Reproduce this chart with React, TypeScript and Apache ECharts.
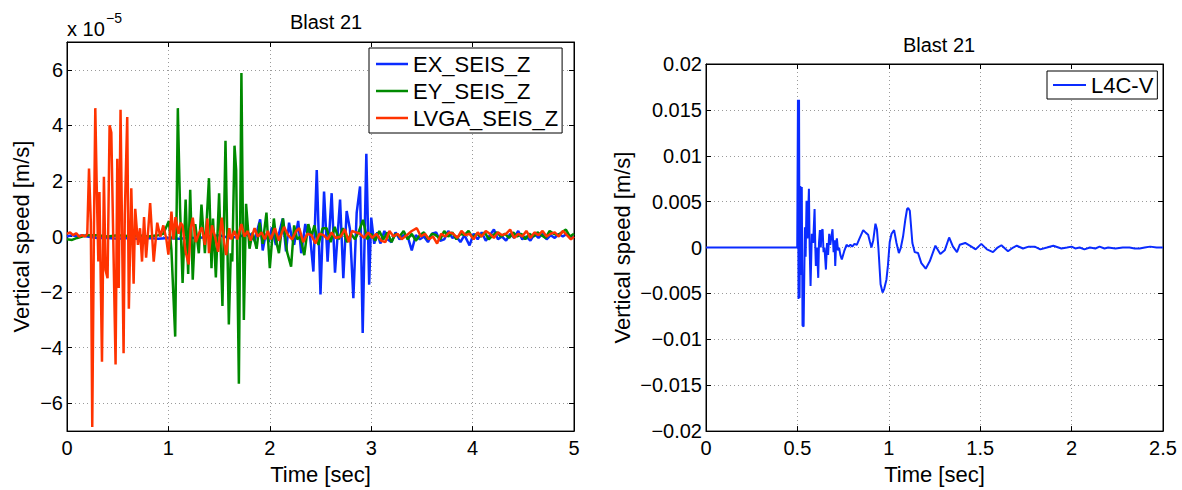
import React, { useEffect, useRef } from "react";
import * as echarts from "echarts";

// ---------- data (left panel values are in units of 1e-5 m/s) ----------
const leftTitle = "Blast 21";
const rightTitle = "Blast 21";
const leftXTicks = [0, 1, 2, 3, 4, 5];
const leftYTicks = [-6, -4, -2, 0, 2, 4, 6];
const rightXTicks = [0, 0.5, 1, 1.5, 2, 2.5];
const rightYTicks = [-0.02, -0.015, -0.01, -0.005, 0, 0.005, 0.01, 0.015, 0.02];
const leftSeriesNames = ["EX_SEIS_Z", "EY_SEIS_Z", "LVGA_SEIS_Z"];
const rightSeriesNames = ["L4C-V"];

const exSeis: [number, number][] = [
  [0, 0], [0.05, 0.05], [0.1, 0], [0.15, 0.05], [0.2, 0], [0.3, -0.05], [0.4, -0.05], [0.5, -0.08],
  [0.6, -0.05], [0.7, -0.08], [0.8, -0.05], [0.9, -0.08], [1.0, -0.05], [1.1, -0.08], [1.2, -0.05],
  [1.3, -0.05], [1.4, 0], [1.5, 0.05], [1.6, -0.05], [1.7, 0], [1.8, 0.1], [1.85, -0.15], [1.905, 0.62],
  [1.93, -0.5], [1.96, 0.1], [1.99, -0.2], [2.02, 0.33], [2.06, -0.3], [2.09, 0.1], [2.128, 0.65],
  [2.16, -0.53], [2.19, 0.5], [2.215, 0], [2.24, -0.3], [2.28, 0.56], [2.31, -0.6], [2.35, 0.45],
  [2.37, 0.1], [2.39, 0.3], [2.43, -1.26], [2.463, 2.39], [2.5, -2.08], [2.535, 1.62], [2.57, -0.9],
  [2.61, 1.56], [2.643, -1.3], [2.693, 1.33], [2.725, -1.5], [2.758, 0.92], [2.79, 0.27], [2.824, -2.22],
  [2.857, 0.86], [2.89, 1.8], [2.916, -3.47], [2.952, 2.98], [2.98, -1.73], [3.0, 0.68], [3.03, -0.26],
  [3.06, 0.15], [3.09, -0.25], [3.13, 0.2], [3.16, -0.1], [3.2, -0.2], [3.24, 0.15], [3.28, -0.1],
  [3.32, 0.05], [3.36, 0], [3.4, -0.5], [3.44, 0.05], [3.48, -0.1], [3.52, 0], [3.56, -0.2], [3.6, 0.1],
  [3.64, 0.15], [3.68, -0.15], [3.72, -0.1], [3.76, 0.2], [3.8, -0.05], [3.84, 0], [3.88, -0.2],
  [3.92, 0.05], [3.97, -0.32], [4.01, 0.1], [4.05, -0.1], [4.09, 0.15], [4.13, -0.15], [4.17, 0.05],
  [4.21, 0.25], [4.25, -0.1], [4.29, 0], [4.33, -0.15], [4.37, 0.1], [4.41, -0.05], [4.45, 0.2],
  [4.49, -0.1], [4.53, 0], [4.57, -0.15], [4.61, 0.1], [4.65, -0.05], [4.69, 0.1], [4.73, -0.1],
  [4.77, 0.05], [4.81, -0.05], [4.85, 0.1], [4.89, 0], [4.93, 0.1], [4.97, -0.05], [5.0, 0],
];

const eySeis: [number, number][] = [
  [0, -0.1], [0.05, -0.12], [0.1, -0.05], [0.15, 0], [0.2, 0.05], [0.3, 0.05], [0.4, 0], [0.5, 0.05],
  [0.6, 0.02], [0.7, 0.05], [0.8, 0], [0.9, 0.05], [0.95, 0.1], [1.005, 0.56], [1.03, -0.5],
  [1.067, -3.6], [1.093, 4.62], [1.115, 1.0], [1.14, -1.67], [1.17, 1.33], [1.195, -1.35], [1.215, 1.68],
  [1.24, -1.55], [1.265, 0.45], [1.3, -0.6], [1.326, 1.15], [1.36, -0.6], [1.4, 2.1], [1.425, -1.14],
  [1.44, 0.65], [1.468, -1.47], [1.5, 1.56], [1.533, -2.5], [1.563, 3.45], [1.596, -3.16], [1.615, -0.6],
  [1.63, -0.9], [1.652, 3.27], [1.668, 2.4], [1.695, -5.3], [1.72, 5.88], [1.744, -3.0], [1.766, 1.18],
  [1.8, -0.44], [1.83, 0.15], [1.87, -0.44], [1.9, 0.5], [1.93, -0.26], [1.967, 0.86], [2.0, -1.14],
  [2.04, 0.65], [2.065, -0.2], [2.09, -0.6], [2.13, 0.65], [2.17, -0.55], [2.21, -1.08], [2.24, 0.4],
  [2.27, -0.1], [2.3, 0], [2.34, -0.67], [2.38, 0.45], [2.41, 0], [2.44, 0.4], [2.48, -0.3], [2.52, 0.3],
  [2.56, 0.3], [2.6, -0.2], [2.64, 0.35], [2.68, -0.1], [2.72, 0.3], [2.76, -0.2], [2.8, 0.1],
  [2.84, -0.1], [2.88, 0.2], [2.92, 0.6], [2.96, -0.1], [3.0, 0.1], [3.04, -0.15], [3.08, 0.2],
  [3.12, -0.1], [3.16, 0.15], [3.2, -0.2], [3.24, 0.1], [3.28, 0], [3.32, 0.2], [3.36, -0.1], [3.4, 0.1],
  [3.44, -0.15], [3.48, 0.05], [3.52, 0.15], [3.56, -0.1], [3.6, 0.1], [3.64, 0.05], [3.68, -0.1],
  [3.72, 0.2], [3.76, 0], [3.8, 0.15], [3.84, -0.1], [3.88, 0.1], [3.92, 0.05], [3.96, 0.2], [4.0, -0.05],
  [4.04, 0.1], [4.08, 0], [4.12, 0.15], [4.16, -0.1], [4.2, 0.05], [4.24, 0.15], [4.28, 0], [4.32, 0.1],
  [4.36, -0.05], [4.4, 0.15], [4.44, 0], [4.48, 0.1], [4.52, -0.1], [4.56, 0.1], [4.6, 0], [4.64, 0.15],
  [4.68, 0.05], [4.72, -0.05], [4.76, 0.2], [4.8, 0.1], [4.84, 0.05], [4.88, 0.15], [4.92, 0.25],
  [4.96, 0], [5.0, 0.1],
];

const lvgaSeis: [number, number][] = [
  [0, 0.1], [0.03, 0.15], [0.06, 0.05], [0.09, 0.12], [0.12, 0], [0.15, 0.05], [0.18, 0], [0.2, 0.1],
  [0.217, 2.45], [0.235, 0.5], [0.249, -6.85], [0.265, 0], [0.279, 4.62], [0.292, 2.0], [0.309, -0.9],
  [0.32, 1.6], [0.345, -4.5], [0.364, 2.15], [0.38, -1.2], [0.4, -1.5], [0.42, 4.0], [0.437, 3.74],
  [0.479, -4.6], [0.496, 2.8], [0.51, -1.85], [0.528, 4.56], [0.558, -4.2], [0.57, 0.8], [0.594, 4.3],
  [0.61, -2.6], [0.634, 1.74], [0.657, -1.7], [0.673, 1.0], [0.7, -0.3], [0.72, 0.3], [0.74, -0.9],
  [0.76, 0.7], [0.78, -0.76], [0.8, 0.2], [0.82, 1.2], [0.855, -0.9], [0.89, 0.5], [0.92, 0],
  [0.95, 0.4], [0.98, -0.1], [1.0, -0.65], [1.03, 0.9], [1.05, -0.1], [1.07, 0.7], [1.1, 0.1],
  [1.12, 0.5], [1.14, 0.4], [1.17, -0.55], [1.2, -1.0], [1.22, 0.3], [1.24, 0.68], [1.27, -0.2],
  [1.3, 0.1], [1.33, 0.33], [1.36, -0.3], [1.385, 0.65], [1.4, -0.6], [1.43, 0.4], [1.46, 0],
  [1.49, -0.55], [1.526, 0.68], [1.55, -0.2], [1.57, -0.67], [1.6, 0.3], [1.62, -0.1], [1.65, 0.2],
  [1.68, -0.1], [1.72, 0.45], [1.75, 0], [1.78, 0.2], [1.81, -0.15], [1.85, 0.3], [1.88, 0],
  [1.92, 0.15], [1.95, -0.1], [1.98, 0.2], [2.01, -0.1], [2.05, 0.3], [2.09, -0.15], [2.14, 0.35],
  [2.18, 0.05], [2.22, -0.1], [2.26, 0.2], [2.29, 0.3], [2.33, -0.2], [2.37, 0.1], [2.41, 0.05],
  [2.45, -0.25], [2.49, 0.1], [2.53, 0.05], [2.57, -0.1], [2.61, 0.15], [2.65, -0.05], [2.7, 0],
  [2.74, 0.27], [2.78, -0.2], [2.81, 0.2], [2.85, 0.15], [2.89, 0.1], [2.93, -0.05], [2.97, 0.15],
  [3.01, -0.05], [3.05, 0.1], [3.1, -0.15], [3.14, -0.2], [3.18, 0.2], [3.22, 0], [3.26, 0.1],
  [3.3, -0.1], [3.35, 0.05], [3.4, 0.2], [3.45, 0.3], [3.49, 0], [3.53, 0.1], [3.57, -0.1], [3.61, 0],
  [3.65, -0.25], [3.69, 0.1], [3.73, 0], [3.77, 0.15], [3.81, 0.1], [3.85, -0.05], [3.89, 0.2],
  [3.93, 0.05], [3.97, 0.1], [4.01, -0.1], [4.05, 0.15], [4.09, 0], [4.13, 0.2], [4.17, 0.1],
  [4.21, -0.05], [4.25, 0.15], [4.29, 0.05], [4.33, 0.1], [4.37, 0.25], [4.41, -0.05], [4.45, 0.1],
  [4.49, 0], [4.53, 0.2], [4.57, -0.05], [4.61, 0.15], [4.65, 0.05], [4.69, 0.2], [4.73, 0], [4.77, 0.1],
  [4.81, 0.15], [4.85, 0], [4.89, 0.2], [4.93, 0.05], [4.97, -0.1], [5.0, 0],
];

const l4cV: [number, number][] = [
  [0, 0], [0.25, 0], [0.499, 0], [0.503, 0.0161], [0.506, -0.0056], [0.509, 0.0161], [0.512, -0.0055],
  [0.516, 0.0067], [0.52, -0.003], [0.524, 0.0066], [0.528, -0.0085], [0.534, -0.0086], [0.541, 0.0022],
  [0.545, -0.001], [0.55, 0.0051], [0.555, 0.001], [0.563, 0.0064], [0.567, 0], [0.572, -0.0042],
  [0.579, 0.0015], [0.586, 0.0005], [0.594, 0.0042], [0.598, 0], [0.601, -0.002], [0.607, 0],
  [0.614, -0.0033], [0.618, 0.0005], [0.623, 0.0019], [0.628, 0], [0.632, 0.0018], [0.638, 0.002],
  [0.643, -0.0005], [0.648, 0], [0.656, -0.0024], [0.662, 0.0005], [0.668, -0.0008], [0.674, 0.0015],
  [0.68, 0.0003], [0.686, 0.0012], [0.692, 0.002], [0.698, -0.0005], [0.703, 0.0008], [0.707, -0.002],
  [0.712, 0.0005], [0.716, 0.001], [0.722, -0.0003], [0.728, 0], [0.735, -0.0008], [0.743, -0.0013],
  [0.756, -0.0004], [0.769, 0.0003], [0.78, 0.0001], [0.79, 0.0003], [0.8, 0.0001], [0.812, 0.0004],
  [0.825, 0.0003], [0.84, 0.001], [0.86, 0.0019], [0.875, 0.0016], [0.887, 0.0014], [0.897, 0.0006],
  [0.905, 0], [0.915, 0.0008], [0.927, 0.0026], [0.935, 0.002], [0.943, 0], [0.955, -0.004],
  [0.966, -0.0049], [0.975, -0.0045], [0.987, -0.0035], [0.995, -0.002], [1.005, 0.0006],
  [1.015, 0.0015], [1.029, 0.0019], [1.042, 0.0005], [1.055, -0.0006], [1.066, 0], [1.078, 0.0012],
  [1.09, 0.003], [1.1, 0.0042], [1.106, 0.0043], [1.115, 0.004], [1.129, 0.0005], [1.142, -0.0005],
  [1.16, -0.0006], [1.178, -0.0017], [1.202, -0.0023], [1.224, -0.0015], [1.255, 0.0002],
  [1.282, -0.0007], [1.306, -0.0003], [1.33, 0.0011], [1.351, 0.0001], [1.373, -0.0005],
  [1.388, 0.0003], [1.418, 0.0005], [1.452, 0.0001], [1.475, -0.0002], [1.506, 0.0004],
  [1.537, -0.0002], [1.57, -0.0005], [1.595, 0], [1.616, 0.00025], [1.652, -0.0004], [1.68, 0],
  [1.7, 0.0002], [1.734, -0.0001], [1.765, 0.0001], [1.798, 0.0001], [1.829, -0.0002], [1.865, 0],
  [1.9, 0.0002], [1.944, -0.0001], [1.975, 0], [2.0, 0.0001], [2.02, -0.0001], [2.044, 0],
  [2.07, -0.0002], [2.1, 0], [2.13, -0.0001], [2.153, 0.0001], [2.18, -0.0001], [2.2, 0],
  [2.24, -0.0001], [2.28, 0], [2.317, 0], [2.345, -0.0001], [2.372, -0.0001], [2.4, 0], [2.43, 0.0001],
  [2.465, 0], [2.5, 0],
];

const BLUE = "#0a2bff";
const GREEN = "#008a00";
const RED = "#ff3300";
const FONT = "'Liberation Sans', Arial, Helvetica, sans-serif";

const minus = (s: string) => s.replace("-", "\u2212");

export default function App() {
  const ref = useRef<HTMLDivElement>(null);
  useEffect(() => {
    if (!ref.current) return;
    const chart = echarts.init(ref.current, undefined, { renderer: "svg" });
    const splitLine = { show: true, lineStyle: { color: "#9a9a9a", type: [1, 3], width: 1 } };
    const axisLine = { show: true, onZero: false, lineStyle: { color: "#000", width: 1 } };
    const tickStyle = (custom?: number[]) => {
      const t: any = { show: true, inside: true, length: 5, lineStyle: { color: "#000" } };
      if (custom) t.customValues = custom;
      return t;
    };
    const labelStyle = { color: "#000", fontSize: 20, fontFamily: FONT };
    const nameStyle = { color: "#000", fontSize: 22, fontFamily: FONT };
    const legendText = { fontSize: 22, lineHeight: 24, color: "#000", fontFamily: FONT };

    const option: any = {
      animation: false,
      backgroundColor: "#fff",
      textStyle: { fontFamily: FONT },
      title: [
        { text: leftTitle, left: 321, top: 7, textAlign: "center", textStyle: { fontSize: 20, fontWeight: "normal", color: "#000", fontFamily: FONT } },
        { text: rightTitle, left: 934, top: 30, textAlign: "center", textStyle: { fontSize: 20, fontWeight: "normal", color: "#000", fontFamily: FONT } },
      ],
      grid: [
        { left: 67, top: 42, width: 507, height: 397, show: true, borderColor: "#000", borderWidth: 1, backgroundColor: "#fff" },
        { left: 706, top: 64, width: 457, height: 374, show: true, borderColor: "#000", borderWidth: 1, backgroundColor: "#fff" },
      ],
      legend: [
        {
          data: leftSeriesNames, orient: "vertical", left: 369, top: 48, padding: [4, 4, 3, 7], icon: "rect",
          itemGap: 3, itemWidth: 32, itemHeight: 2.5, backgroundColor: "#fff", borderColor: "#000", borderWidth: 1,
          borderRadius: 0, textStyle: legendText,
        },
        {
          data: rightSeriesNames, orient: "vertical", left: 1047, top: 71, padding: [2, 4, 2, 6], icon: "rect",
          itemGap: 3, itemWidth: 33, itemHeight: 2, backgroundColor: "#fff", borderColor: "#000", borderWidth: 1,
          borderRadius: 0, textStyle: legendText,
        },
      ],
      xAxis: [
        {
          type: "value", gridIndex: 0, min: 0, max: 5, interval: 1, name: "Time [sec]", nameLocation: "middle",
          nameGap: 29, nameTextStyle: nameStyle, axisLine, axisTick: tickStyle(), splitLine,
          axisLabel: { ...labelStyle, margin: 7, formatter: (v: number) => leftXTicks.includes(v) ? String(v) : "" },
        },
        {
          type: "value", gridIndex: 0, min: 0, max: 5, interval: 1, position: "top", axisLine,
          axisTick: tickStyle(), axisLabel: { show: false }, splitLine: { show: false },
        },
        {
          type: "value", gridIndex: 1, min: 0, max: 2.5, interval: 0.5, name: "Time [sec]", nameLocation: "middle",
          nameGap: 29, nameTextStyle: nameStyle, axisLine, axisTick: tickStyle(), splitLine,
          axisLabel: {
            ...labelStyle, margin: 7,
            formatter: (v: number) => { const r = Number(v.toFixed(2)); return rightXTicks.includes(r) ? String(r) : ""; },
          },
        },
        {
          type: "value", gridIndex: 1, min: 0, max: 2.5, interval: 0.5, position: "top", axisLine,
          axisTick: tickStyle(), axisLabel: { show: false }, splitLine: { show: false },
        },
      ],
      yAxis: [
        {
          type: "value", gridIndex: 0, min: -7, max: 7, name: "Vertical speed [m/s]", nameLocation: "middle",
          nameGap: 35, nameTextStyle: nameStyle, axisLine, axisTick: tickStyle(leftYTicks),
          splitLine,
          axisLabel: { ...labelStyle, margin: 4, customValues: leftYTicks, formatter: (v: number) => minus(String(v)) },
        },
        {
          type: "value", gridIndex: 0, min: -7, max: 7, position: "right", axisLine,
          axisTick: tickStyle(leftYTicks), axisLabel: { show: false, customValues: leftYTicks }, splitLine: { show: false },
        },
        {
          type: "value", gridIndex: 1, min: -0.02, max: 0.02, interval: 0.005, name: "Vertical speed [m/s]",
          nameLocation: "middle", nameGap: 73, nameTextStyle: nameStyle, axisLine, axisTick: tickStyle(), splitLine,
          axisLabel: {
            ...labelStyle, margin: 4,
            formatter: (v: number) => { const r = Number(v.toFixed(3)); return rightYTicks.includes(r) ? minus(String(r)) : ""; },
          },
        },
        {
          type: "value", gridIndex: 1, min: -0.02, max: 0.02, interval: 0.005, position: "right", axisLine,
          axisTick: tickStyle(), axisLabel: { show: false }, splitLine: { show: false },
        },
      ],
      graphic: [
        { type: "text", left: 67, top: 19, style: { text: "x 10", fontSize: 20, fontFamily: FONT, fill: "#000" } },
        { type: "text", left: 106, top: 11, style: { text: "\u22125", fontSize: 14, fontFamily: FONT, fill: "#000" } },
      ],
      series: [
        { name: leftSeriesNames[0], type: "line", xAxisIndex: 0, yAxisIndex: 0, data: exSeis, symbol: "none", lineStyle: { color: BLUE, width: 2.5 }, itemStyle: { color: BLUE } },
        { name: leftSeriesNames[1], type: "line", xAxisIndex: 0, yAxisIndex: 0, data: eySeis, symbol: "none", lineStyle: { color: GREEN, width: 2.5 }, itemStyle: { color: GREEN } },
        { name: leftSeriesNames[2], type: "line", xAxisIndex: 0, yAxisIndex: 0, data: lvgaSeis, symbol: "none", lineStyle: { color: RED, width: 2.5 }, itemStyle: { color: RED } },
        { name: rightSeriesNames[0], type: "line", xAxisIndex: 2, yAxisIndex: 2, data: l4cV, symbol: "none", lineStyle: { color: BLUE, width: 2 }, itemStyle: { color: BLUE } },
      ],
    };
    chart.setOption(option);
    return () => chart.dispose();
  }, []);
  return <div ref={ref} style={{ position: "absolute", left: 0, top: 0, width: 1182, height: 490 }} />;
}
